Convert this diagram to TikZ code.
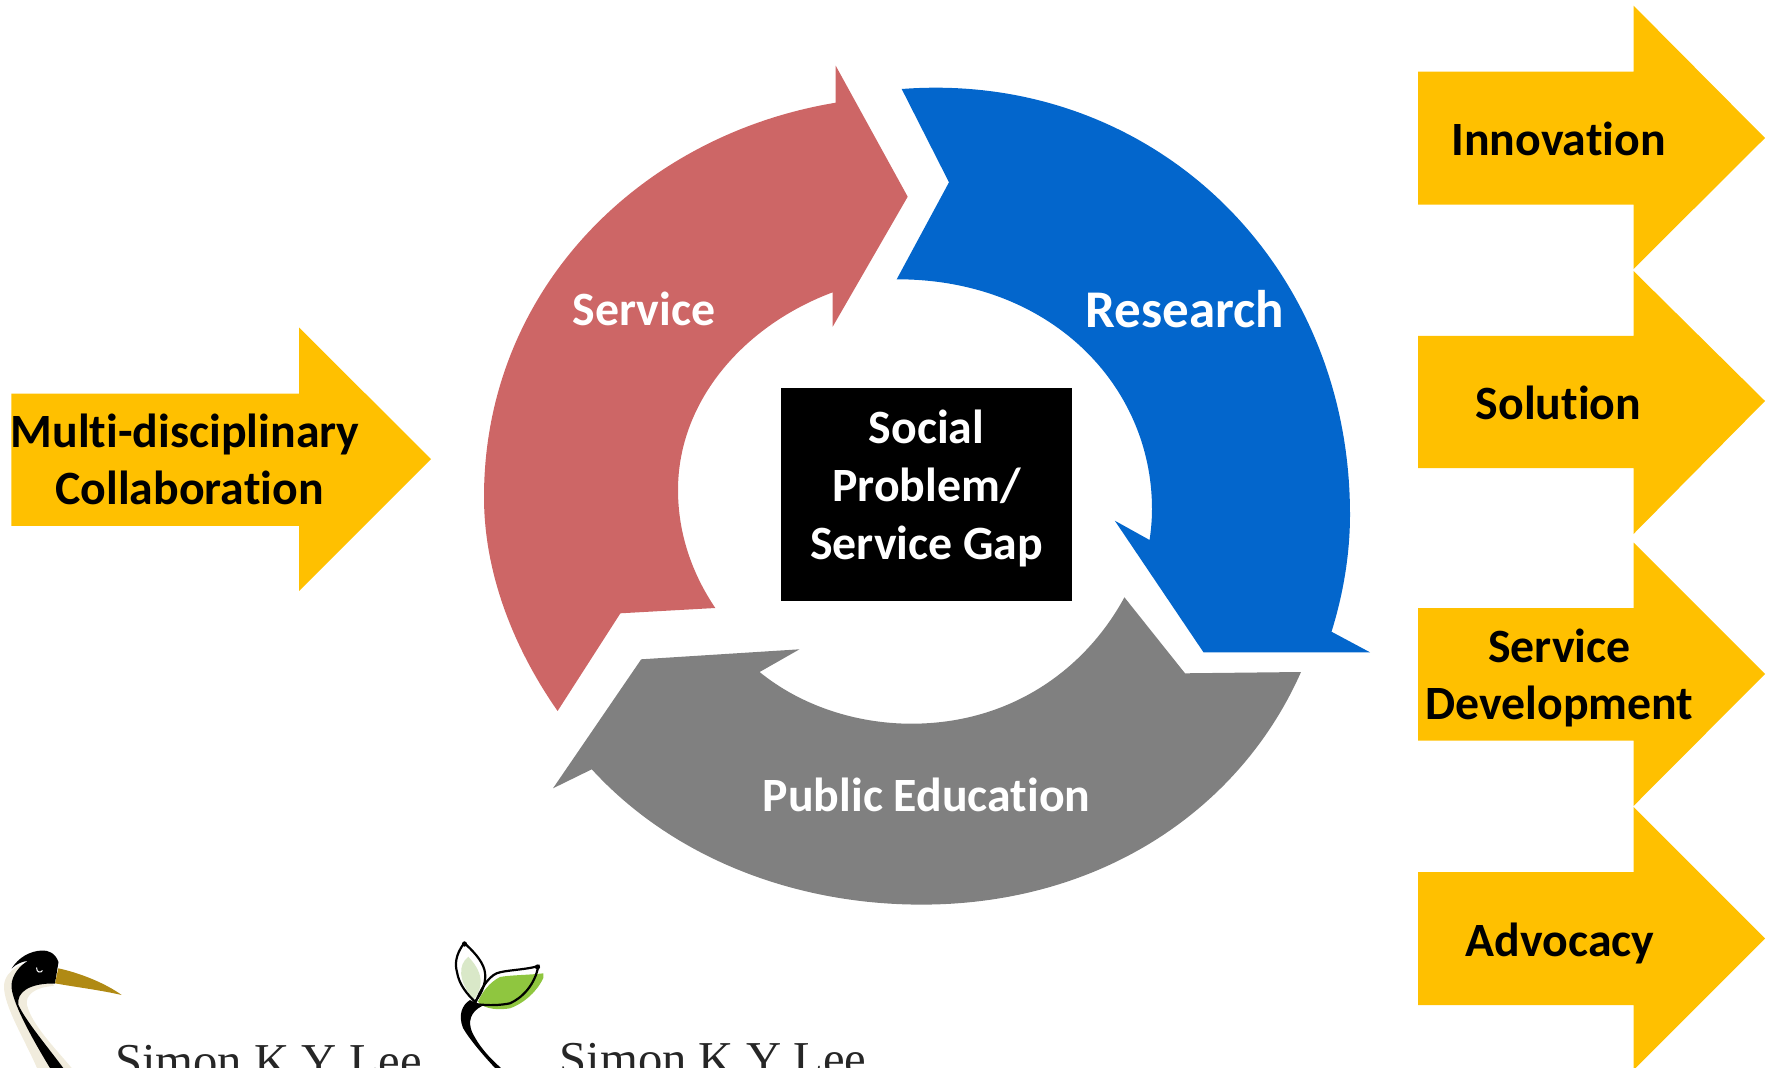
\documentclass[tikz,border=0pt]{standalone}
\usepackage{fontspec}
\setmainfont[Ligatures=NoCommon]{Carlito}
\newfontfamily\logofont{Liberation Serif}
\definecolor{servicered}{HTML}{CD6666}
\definecolor{researchblue}{HTML}{0366CC}
\definecolor{educationgray}{HTML}{808080}
\definecolor{arrowyellow}{HTML}{FFC000}
\definecolor{cranecream}{HTML}{F1ECDD}
\definecolor{cranebeak}{HTML}{B08A14}
\definecolor{leafgreen}{HTML}{8FC63F}
\definecolor{leafpale}{HTML}{D9E8C8}
\tikzset{
  sidelabel/.style={font=\bfseries\fontsize{47.8}{57}\selectfont,align=center,text=black},
  cyclelabel/.style={font=\bfseries\fontsize{47.8}{57}\selectfont,text=white},
  logolabel/.style={font=\logofont\fontsize{48.7}{48.7}\selectfont,anchor=base west,text=black!85}
}
\begin{document}
\begin{tikzpicture}[x=1pt, y=-1pt]
\useasboundingbox (0,0) rectangle (1773,1068);
\clip (0,0) rectangle (1773,1068);
%service:
\fill[servicered] (835.7,102.7) -- (835.7,65.7) -- (907.7,196.7) -- (832.7,326.7) -- (832.7,292.3)
  .. controls (745,325) and (678,400) .. (678,490)
  .. controls (678,535) and (693,575) .. (715.3,608)
  -- (620.4,613.3) -- (557.6,711)
  .. controls (515,650) and (484,575) .. (484,497)
  .. controls (484,290) and (640,135) .. (835.7,102.7) -- cycle;
%research:
\fill[researchblue] (901.7,89) .. controls (1150,70) and (1350,260) .. (1350,514.5)
  .. controls (1350,555) and (1343,595) .. (1331.5,631.7)
  -- (1370,652.3) -- (1203.5,652.3) -- (1114.8,520.7) -- (1149.6,540)
  .. controls (1151,530) and (1152,520) .. (1152,509)
  .. controls (1152,385) and (1050,279) .. (896.7,279.3)
  -- (949,182.3) -- cycle;
%public education:
\fill[educationgray] (1124.4,597.3) -- (1185,673.3) -- (1301,672)
  .. controls (1240,810) and (1100,904.6) .. (921.5,904.6)
  .. controls (790,904.6) and (670,855) .. (591.8,769.3)
  -- (553,788.3) -- (641.2,659.3) -- (799.5,649.3) -- (759.6,672)
  .. controls (800,705) and (855,723.7) .. (911.4,723.7)
  .. controls (1010,723.7) and (1085,670) .. (1124.4,597.3) -- cycle;
%yellow arrows:
\fill[arrowyellow] (11.3,393.5) -- (299,393.5) -- (299,327.5) -- (431,459) -- (299,591) -- (299,525.8) -- (11.3,525.8) -- cycle;
\fill[arrowyellow] (1418,71.7) -- (1633.5,71.7) -- (1633.5,5.6) -- (1765,138) -- (1633.5,269) -- (1633.5,204.7) -- (1418,204.7) -- cycle;
\fill[arrowyellow] (1418,335.8) -- (1633.5,335.8) -- (1633.5,271) -- (1765,401) -- (1633.5,534) -- (1633.5,468) -- (1418,468) -- cycle;
\fill[arrowyellow] (1418,608) -- (1633.5,608) -- (1633.5,542.5) -- (1765,674) -- (1633.5,806) -- (1633.5,740.6) -- (1418,740.6) -- cycle;
\fill[arrowyellow] (1418,872) -- (1633.5,872) -- (1633.5,807) -- (1765,938.5) -- (1633.5,1070) -- (1633.5,1005) -- (1418,1005) -- cycle;
%labels:
\node[cyclelabel] (service) at (644,309) {Service};
\node[cyclelabel,font=\bfseries\fontsize{53}{57}\selectfont] (research) at (1185,309) {Research};
\node[cyclelabel] (education) at (926.5,794.5) {Public Education};
\node[fill=black,minimum width=291pt,minimum height=213pt,inner sep=0pt] (problem) at (926.5,494.5) {};
\node[cyclelabel,font=\bfseries\fontsize{47.8}{58}\selectfont,align=center] (problem text) at (926.5,488) {Social\\Problem/\\Service Gap};
\node[sidelabel] (collaboration) at (185,459.5) {Multi-disciplinary\\\hspace{9pt}Collaboration};
\node[sidelabel] (innovation) at (1558.5,138.5) {Innovation};
\node[sidelabel] (solution) at (1558.5,403) {Solution};
\node[sidelabel] (development) at (1559.5,678) {Service\\Development};
\node[sidelabel] (advocacy) at (1560,943) {Advocacy};
%crane logo:
\fill[cranecream] (71.7,1068) .. controls (55,1048) and (32,1025) .. (27,1005) .. controls (25,995) and (35,987) .. (54,986)
  -- (40,960) .. controls (25,962) and (6,968) .. (4,985) .. controls (3,1005) and (25,1040) .. (37,1068) -- cycle;
\fill[black] (63.3,1068) .. controls (50,1050) and (25,1020) .. (18.5,1005) .. controls (16,992) and (30,983) .. (55,983.5)
  -- (58.5,962) .. controls (55,952) and (47,950.5) .. (43,950.5) .. controls (30,950.5) and (18,958) .. (11.7,968.5)
  .. controls (16,964) and (23,961) .. (28,961) .. controls (20,965) and (12,975) .. (11.5,985)
  .. controls (11,1000) and (30,1035) .. (50,1068) -- cycle;
\fill[cranebeak] (58.3,968.3) .. controls (80,973) and (105,983) .. (121.7,995) .. controls (100,990) and (75,987) .. (55,983.3) -- cycle;
\draw[white,line width=1pt] (36.5,967.5) .. controls (36.5,973) and (41,973) .. (42.5,970.5);
\node[logolabel] (simon one) at (111.5,1077) {Simon K Y Lee};
%sprout logo:
\fill[leafpale] (468.3,956.7) .. controls (458,965) and (458,980) .. (473.3,1000) .. controls (482,990) and (486,975) .. (468.3,956.7) -- cycle;
\fill[leafgreen] (543.3,973.3) .. controls (530,975) and (510,975) .. (500,977) .. controls (490,982) and (482,992) .. (478,1001.7)
  .. controls (485,1010) and (500,1010) .. (510,1008.3) .. controls (525,1003) and (538,990) .. (543.3,978) -- cycle;
\draw[black,line width=2.2pt] (464.3,943) .. controls (455,955) and (455,965) .. (457,972) .. controls (459,985) and (468,995) .. (475,1001.7)
  .. controls (483,992) and (487,980) .. (484.5,970) .. controls (482,960) and (472,950) .. (464.3,943) -- cycle;
\draw[black,line width=2.2pt] (538.3,966) .. controls (525,970) and (505,970) .. (496.7,973.3) .. controls (488,977) and (480,990) .. (475,1004)
  .. controls (490,1006) and (502,1005) .. (510,1003.3) .. controls (522,998) and (535,985) .. (538.3,966) -- cycle;
\fill[black] (482,1006) .. controls (470,1012) and (468,1022) .. (472,1032) .. controls (480,1048) and (490,1058) .. (501,1068)
  -- (495,1068) .. controls (483,1055) and (470,1040) .. (463,1028) .. controls (458,1015) and (462,1005) .. (470,1000) -- cycle;
\fill[black] (464.5,944) circle (2.6);
\fill[black] (537.5,967) circle (2.6);
\node[logolabel] (simon two) at (556,1075) {Simon K Y Lee};
\end{tikzpicture}
\end{document}
